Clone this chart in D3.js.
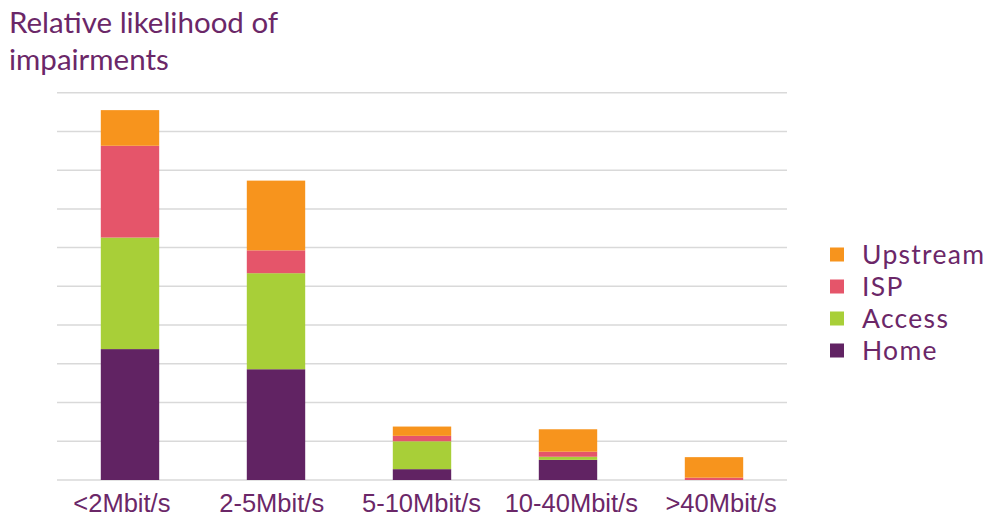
<!DOCTYPE html>
<html>
<head>
<meta charset="utf-8">
<script src="https://cdn.jsdelivr.net/npm/d3@7"></script>
<style>
  html, body { margin: 0; padding: 0; background: #fff; }
  svg { display: block; }
</style>
</head>
<body>
<svg id="chart" width="991" height="519"></svg>
<script>
// Connection speed bands
const categories = ["<2Mbit/s", "2-5Mbit/s", "5-10Mbit/s", "10-40Mbit/s", ">40Mbit/s"];
// Stacked segments, bottom to top
const seriesNames = ["Home", "Access", "ISP", "Upstream"];
const home     = [3.38, 2.86, 0.28, 0.52, 0.00];
const access   = [2.88, 2.48, 0.72, 0.08, 0.00];
const isp      = [2.37, 0.59, 0.14, 0.13, 0.06];
const upstream = [0.92, 1.80, 0.24, 0.58, 0.53];
const yTicks = [0, 1, 2, 3, 4, 5, 6, 7, 8, 9, 10];
const titleLines = ["Relative likelihood of", "impairments"];

const colors = {
  Home: "#612363",
  Access: "#A8CF38",
  ISP: "#E5556A",
  Upstream: "#F7941D"
};
const textColor = "#6B2768";

const rows = categories.map((c, i) => ({
  category: c, Home: home[i], Access: access[i], ISP: isp[i], Upstream: upstream[i]
}));

const svg = d3.select("#chart");
const margin = { left: 57, right: 204, top: 92.7, bottom: 39 };
const W = 991, H = 519;

const x = d3.scaleBand()
  .domain(categories)
  .range([margin.left, W - margin.right])
  .paddingInner(0.6)
  .paddingOuter(0.3);

// Category labels are spread a little wider than the bars
const xLabel = d3.scaleBand()
  .domain(categories)
  .range([47, 796]);

const y = d3.scaleLinear()
  .domain([0, 10])
  .range([H - margin.bottom, margin.top]);

// Horizontal gridlines
svg.append("g")
  .selectAll("line")
  .data(yTicks)
  .join("line")
  .attr("x1", margin.left)
  .attr("x2", W - margin.right)
  .attr("y1", d => y(d))
  .attr("y2", d => y(d))
  .attr("stroke", "#d9d9d9")
  .attr("stroke-width", 1.5);

// Stacked bars
const stack = d3.stack().keys(seriesNames);
const layers = stack(rows);

svg.append("g")
  .selectAll("g")
  .data(layers)
  .join("g")
  .attr("fill", d => colors[d.key])
  .selectAll("rect")
  .data(d => d)
  .join("rect")
  .attr("x", d => x(d.data.category))
  .attr("width", x.bandwidth())
  .attr("y", d => y(d[1]))
  .attr("height", d => Math.max(0, y(d[0]) - y(d[1])));

// Category axis labels
const xAxis = d3.axisBottom(xLabel).tickSize(0).tickPadding(14);
const gx = svg.append("g")
  .attr("transform", `translate(0,${y(0)})`)
  .call(xAxis);
gx.select(".domain").remove();
gx.selectAll("text")
  .attr("fill", textColor)
  .attr("font-family", "'Liberation Sans', Arial, sans-serif")
  .attr("font-size", 25.5);

// Title
svg.append("text")
  .attr("x", 9)
  .attr("y", 33)
  .attr("fill", textColor)
  .attr("font-family", "Lato, 'Open Sans', sans-serif")
  .attr("font-size", 29.5)
  .selectAll("tspan")
  .data(titleLines)
  .join("tspan")
  .attr("x", 9)
  .attr("dy", (d, i) => i === 0 ? 0 : 37)
  .text(d => d);

// Legend, top entry is the top of the stack
const legendItems = seriesNames.slice().reverse();
const legend = svg.append("g").attr("transform", "translate(830,254.5)");
const li = legend.selectAll("g")
  .data(legendItems)
  .join("g")
  .attr("transform", (d, i) => `translate(0,${i * 32})`);
li.append("rect")
  .attr("x", 0).attr("y", -7)
  .attr("width", 14).attr("height", 14)
  .attr("fill", d => colors[d]);
li.append("text")
  .attr("x", 32)
  .attr("y", 0)
  .attr("dy", "0.36em")
  .attr("fill", textColor)
  .attr("font-family", "Lato, 'Open Sans', sans-serif")
  .attr("font-size", 26.5)
  .attr("letter-spacing", 1.3)
  .text(d => d);
</script>
</body>
</html>
